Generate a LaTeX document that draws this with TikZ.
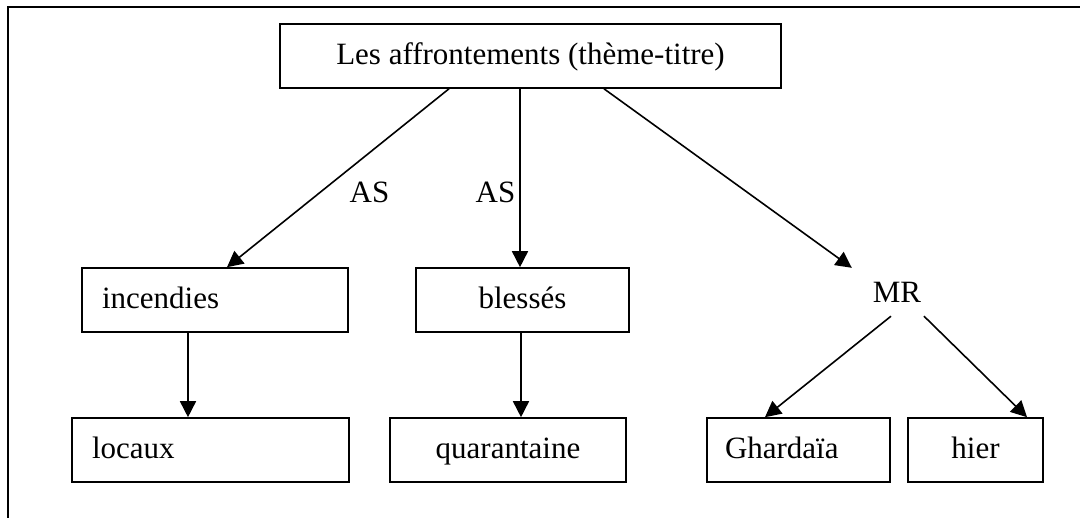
\documentclass[tikz,border=0pt]{standalone}
\usepackage{fontspec}
\setmainfont{Liberation Serif}
\usetikzlibrary{arrows.meta,positioning}

\begin{document}
\begin{tikzpicture}[x=1pt,y=-1pt,
    box/.style={draw, line width=1.6pt, minimum height=64pt, inner sep=0pt,
                text height=23pt, text depth=6pt},
    leftbox/.style={box, align=left, inner xsep=20pt},
    arr/.style={line width=1.6pt, -{Triangle[length=16pt,width=16pt]}},
    lbl/.style={inner sep=0pt},
    font=\fontsize{31}{36}\selectfont]
  \useasboundingbox (0,0) rectangle (1080,518);
  % Draw frame
  \draw[line width=2.5pt] (8,518) -- (8,7) -- (1080,7);

  % Define nodes
  \node[box, minimum width=501pt] (title) at (530.5,56) {Les affrontements (th\`eme-titre)};

  \node[leftbox, text width=226pt] (inc) at (215,300) {incendies};
  \node[box, minimum width=213pt] (bles) at (522.5,300) {bless\'es};
  \node[lbl, minimum width=90pt, minimum height=48pt] (mr) at (897,292) {MR};

  \node[leftbox, text width=237pt] (loc) at (210.5,450) {locaux};
  \node[box, minimum width=236pt] (quar) at (508,450) {quarantaine};
  \node[leftbox, inner xsep=18pt, text width=147pt] (gha) at (798.5,450) {Ghardaïa};
  \node[box, minimum width=135pt] (hier) at (975.5,450) {hier};

  % Label arrows
  \node[lbl] (as1) at (369.5,192) {AS};
  \node[lbl] (as2) at (495.5,192) {AS};

  % Draw arrows
  \draw[arr] ([xshift=-81.5pt]title.south) -- ([xshift=12pt]inc.north);
  \draw[arr] ([xshift=-10.5pt]title.south) -- ([xshift=-2.5pt]bles.north);
  \draw[arr] ([xshift=73.5pt]title.south) -- (mr.north west);

  \draw[arr] ([xshift=-27pt]inc.south) -- ([xshift=-22.5pt]loc.north);
  \draw[arr] ([xshift=-1.5pt]bles.south) -- ([xshift=13pt]quar.north);

  \draw[arr] ([xshift=-6pt]mr.south) -- ([xshift=-33.5pt]gha.north);
  \draw[arr] ([xshift=27pt]mr.south) -- ([xshift=51.5pt]hier.north);
\end{tikzpicture}
\end{document}
